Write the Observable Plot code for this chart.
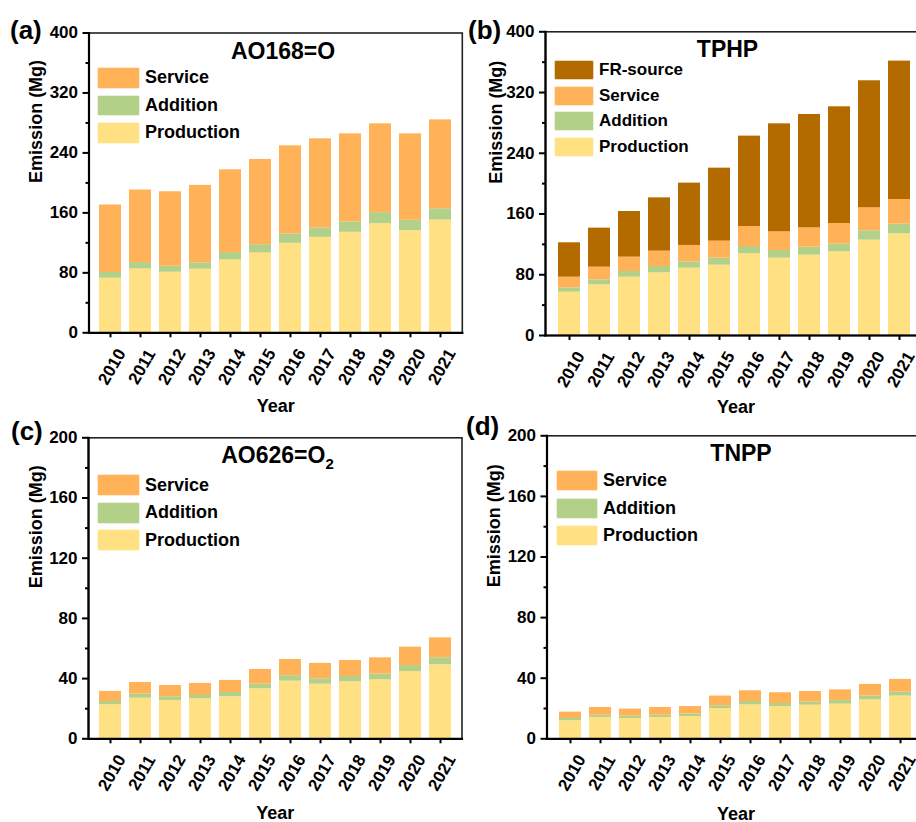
<!DOCTYPE html>
<html>
<head>
<meta charset="utf-8">
<script src="https://cdn.jsdelivr.net/npm/d3@7"></script>
<script src="https://cdn.jsdelivr.net/npm/@observablehq/plot@0.6"></script>
<style>
  html, body { margin: 0; padding: 0; background: #fff; overflow: hidden; }
  #wrap { position: relative; width: 916px; height: 822px; overflow: hidden; font-family: "Liberation Sans", Arial, sans-serif; color: #000; }
  .abs { position: absolute; white-space: nowrap; font-weight: bold; line-height: 1; }
  .leg { position: absolute; display: flex; flex-direction: column; }
  .leg .row { display: flex; align-items: center; }
  .leg .sw { box-sizing: border-box; border: 1px solid rgba(255,255,255,0.7); border-radius: 2px; }
  .leg .lb { font-weight: bold; padding-left: 5px; }
  svg text { font-family: "Liberation Sans", Arial, sans-serif; }
</style>
</head>
<body>
<div id="wrap"></div>
<script>
// ---------- data ----------
const years = ["2010","2011","2012","2013","2014","2015","2016","2017","2018","2019","2020","2021"];
const seriesNames = ["Production", "Addition", "Service", "FR-source"];
const seriesColors = ["#FFE083", "#B2D087", "#FFB257", "#B36B00"];

// (a) AO168=O
const aProduction = [72.8, 85.2, 80.8, 84.8, 97.2, 106.5, 119.4, 127.4, 134.1, 145.6, 136.3, 150.5];
const aAddition   = [7.6, 8.5, 8.0, 8.4, 9.8, 11.1, 12.5, 12.4, 13.7, 14.7, 13.8, 15.1];
const aService    = [90.1, 96.8, 99.4, 103.5, 110.5, 113.7, 117.6, 119.0, 117.7, 118.5, 115.4, 118.5];

// (b) TPHP
const bProduction = [57.1, 66.7, 76.8, 82.5, 88.7, 92.6, 107.6, 101.9, 105.8, 110.2, 125.6, 133.9];
const bAddition   = [5.7, 6.6, 7.5, 8.4, 8.3, 9.3, 9.6, 10.1, 10.6, 10.5, 12.3, 12.7];
const bService    = [14.0, 16.7, 18.9, 20.2, 21.6, 22.4, 26.4, 24.6, 25.4, 26.8, 30.3, 32.5];
const bFRsource   = [45.3, 51.4, 60.1, 70.2, 82.1, 96.1, 119.0, 142.2, 149.3, 153.7, 167.3, 182.3];

// (c) AO626=O2
const cProduction = [22.6, 27.0, 25.5, 26.6, 27.9, 33.2, 38.3, 36.3, 37.9, 39.2, 44.7, 49.2];
const cAddition   = [2.2, 2.7, 2.4, 2.2, 2.9, 3.1, 3.6, 3.6, 3.5, 3.8, 4.0, 4.6];
const cService    = [6.7, 7.7, 7.5, 8.0, 8.0, 9.8, 10.8, 10.2, 10.6, 10.8, 12.2, 13.3];

// (d) TNPP
const dProduction = [11.9, 14.1, 13.4, 14.1, 14.7, 20.0, 22.4, 21.3, 22.2, 22.9, 25.7, 28.2];
const dAddition   = [1.5, 1.5, 1.6, 1.5, 1.6, 1.8, 2.2, 2.0, 2.0, 2.4, 2.5, 2.6];
const dService    = [4.2, 5.1, 4.6, 5.1, 5.0, 6.4, 7.1, 7.1, 7.0, 7.0, 7.7, 8.4];

// tick labels
const yTicksBig = [0, 80, 160, 240, 320, 400];
const yMinorBig = [40, 120, 200, 280, 360];
const yTicksSmall = [0, 40, 80, 120, 160, 200];
const yMinorSmall = [20, 60, 100, 140, 180];

const xTitle = "Year";
const yTitle = "Emission (Mg)";

// ---------- helpers ----------
function tidy(seriesArrays) {
  const rows = [];
  seriesArrays.forEach(([name, vals]) => {
    vals.forEach((v, i) => rows.push({year: years[i], series: name, value: v}));
  });
  return rows;
}

const wrap = document.getElementById("wrap");

function panel(cfg) {
  const data = tidy(cfg.series);
  const used = cfg.series.map(s => s[0]);
  const chart = Plot.plot({
    width: cfg.width,
    height: cfg.height,
    marginLeft: cfg.ml, marginRight: cfg.mr, marginTop: cfg.mt, marginBottom: cfg.mb,
    style: {background: "transparent", overflow: "visible", maxWidth: "none", fontFamily: "'Liberation Sans', Arial, sans-serif", color: "#000"},
    x: {type: "band", domain: years, paddingInner: 0.256, paddingOuter: 0.315, label: null},
    y: {domain: cfg.yDomain, label: null},
    color: {domain: seriesNames, range: seriesColors},
    marks: [
      Plot.barY(data, {x: "year", y: "value", fill: "series", order: seriesNames.filter(s => used.includes(s))}),
      Plot.frame({stroke: "#222", strokeWidth: 1.6}),
      Plot.frame({anchor: "left", stroke: "#000", strokeWidth: 2.2}),
      Plot.frame({anchor: "bottom", stroke: "#000", strokeWidth: 2.2}),
      Plot.axisY({ticks: cfg.yTicks, tickSize: 6, tickPadding: 5, strokeWidth: 2, fontSize: 17, fontWeight: "bold", fill: "#000", label: null}),
      Plot.axisY({ticks: cfg.yMinor, tickSize: 3, strokeWidth: 2, tickFormat: () => "", label: null}),
      Plot.axisX({tickSize: 5, strokeWidth: 2, tickFormat: () => "", label: null}),
      Plot.axisX({tickSize: 0, tickRotate: -60, textAnchor: "middle", lineAnchor: "middle", tickPadding: 34, dx: 1.5, fontSize: 17, fontWeight: "bold", fill: "#000", label: null}),
      Plot.text([xTitle], {text: d => d, frameAnchor: "bottom", dy: cfg.xTitleDy, dx: cfg.xTitleDx, lineAnchor: "bottom", fontSize: 18, fontWeight: "bold", fill: "#000"}),
      Plot.text([yTitle], {text: d => d, frameAnchor: "left", dx: cfg.yTitleDx, rotate: -90, fontSize: 18, fontWeight: "bold", fill: "#000"})
    ]
  });
  chart.style.position = "absolute";
  chart.style.left = cfg.left + "px";
  chart.style.top = cfg.top + "px";
  wrap.appendChild(chart);

  // panel letter
  const letter = document.createElement("div");
  letter.className = "abs";
  letter.style.cssText = `left:${cfg.letterX}px; top:${cfg.letterTop}px; font-size:26px;`;
  letter.textContent = cfg.letter;
  wrap.appendChild(letter);

  // title
  const title = document.createElement("div");
  title.className = "abs";
  title.style.cssText = `left:${cfg.titleCx - 150}px; width:300px; text-align:center; top:${cfg.titleTop}px; font-size:23px;`;
  title.innerHTML = cfg.titleHTML;
  wrap.appendChild(title);

  // legend (top to bottom: reverse stack order)
  const leg = document.createElement("div");
  leg.className = "leg";
  leg.style.left = cfg.legX + "px";
  leg.style.top = cfg.legY + "px";
  leg.style.gap = cfg.legGap + "px";
  const items = used.slice().reverse();
  items.forEach(name => {
    const row = document.createElement("div");
    row.className = "row";
    row.style.height = cfg.swH + "px";
    const sw = document.createElement("div");
    sw.className = "sw";
    sw.style.width = cfg.swW + "px";
    sw.style.height = cfg.swH + "px";
    sw.style.background = seriesColors[seriesNames.indexOf(name)];
    const lb = document.createElement("div");
    lb.className = "lb";
    lb.style.fontSize = cfg.legFont + "px";
    lb.textContent = name;
    row.appendChild(sw);
    row.appendChild(lb);
    leg.appendChild(row);
  });
  wrap.appendChild(leg);
}

// (a)
panel({
  series: [["Production", aProduction], ["Addition", aAddition], ["Service", aService]],
  left: 0, top: 0, width: 465, height: 422, ml: 88.5, mr: 3.2, mt: 32.5, mb: 89.7,
  yDomain: [0, 400], yTicks: yTicksBig, yMinor: yMinorBig,
  xTitleDy: 79.2, xTitleDx: 0, yTitleDx: -52.8,
  letter: "(a)", letterX: 10, letterTop: 16.5,
  titleHTML: "AO168=O", titleCx: 283, titleTop: 39.5,
  legX: 97, legY: 67, legGap: 6, swW: 43, swH: 21.5, legFont: 18
});
// (b)
panel({
  series: [["Production", bProduction], ["Addition", bAddition], ["Service", bService], ["FR-source", bFRsource]],
  left: 460, top: 0, width: 466, height: 422, ml: 85, mr: 3, mt: 31.3, mb: 87,
  yDomain: [0, 400], yTicks: yTicksBig, yMinor: yMinorBig,
  xTitleDy: 77.7, xTitleDx: 1.5, yTitleDx: -49.3,
  letter: "(b)", letterX: 468, letterTop: 16.5,
  titleHTML: "TPHP", titleCx: 727.5, titleTop: 37.8,
  legX: 554, legY: 60, legGap: 5.6, swW: 40, swH: 20, legFont: 17
});
// (c)
panel({
  series: [["Production", cProduction], ["Addition", cAddition], ["Service", cService]],
  left: 0, top: 422, width: 465, height: 400, ml: 88, mr: 3.5, mt: 15.3, mb: 83.7,
  yDomain: [0, 200], yTicks: yTicksSmall, yMinor: yMinorSmall,
  xTitleDy: 79.7, xTitleDx: 0, yTitleDx: -52.5,
  letter: "(c)", letterX: 11, letterTop: 417.5,
  titleHTML: 'AO626=O<span style="font-size:15px;position:relative;top:6px">2</span>', titleCx: 277.5, titleTop: 443.8,
  legX: 97, legY: 474, legGap: 5.7, swW: 43, swH: 22, legFont: 18
});
// (d)
panel({
  series: [["Production", dProduction], ["Addition", dAddition], ["Service", dService]],
  left: 460, top: 422, width: 466.5, height: 400, ml: 86.5, mr: 3, mt: 13.3, mb: 83.7,
  yDomain: [0, 200], yTicks: yTicksSmall, yMinor: yMinorSmall,
  xTitleDy: 80.7, xTitleDx: 0.5, yTitleDx: -52.7,
  letter: "(d)", letterX: 466, letterTop: 413.2,
  titleHTML: "TNPP", titleCx: 741, titleTop: 442.2,
  legX: 556, legY: 470, legGap: 6.5, swW: 42, swH: 21, legFont: 18
});
</script>
</body>
</html>
